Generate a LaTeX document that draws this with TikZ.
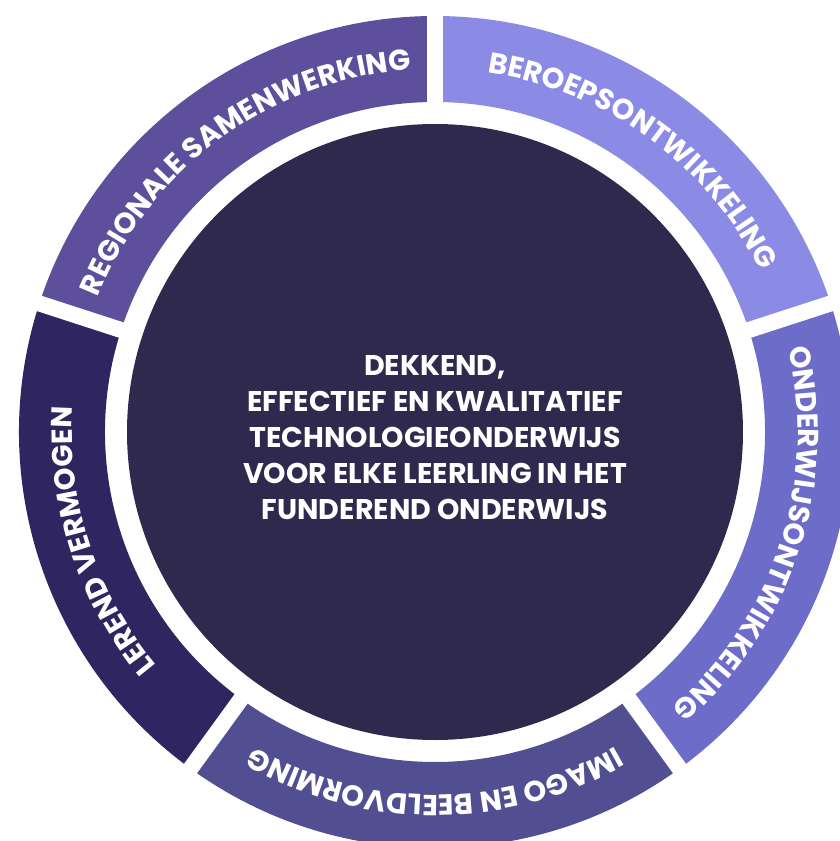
\documentclass[tikz,border=0pt]{standalone}
\usepackage{fontspec}
\setmainfont{Poppins}
\usetikzlibrary{decorations.text}
\definecolor{cCore}{HTML}{2E294D}
\definecolor{cReg}{HTML}{5D4F9C}
\definecolor{cBer}{HTML}{8B8AE4}
\definecolor{cOnd}{HTML}{6E6CC9}
\definecolor{cIma}{HTML}{514F91}
\definecolor{cLer}{HTML}{2F2560}
\newcommand\ringfont{\bfseries\fontsize{29}{29}\selectfont}
\newcommand\ringsector[3]{%
  \fill[#3] (#1:416) arc[start angle=#1, end angle=#2, radius=416]
    -- (#2:330) arc[start angle=#2, end angle=#1, radius=330] -- cycle;}
\newcommand\ringlabel[3]{%
  \path[decorate, decoration={text along path, text align=center, text color=white,
    text={|\ringfont|#3}}] (#2:363) arc[start angle=#2, end angle=#1, radius=363];}
\begin{document}
\begin{tikzpicture}[x=1pt,y=1pt,
  gapline/.style={white, line width=16},
  corecircle/.style={circle, fill=cCore, minimum size=616, inner sep=0},
  coretext/.style={text=white, align=center, font=\bfseries\fontsize{28.5}{36}\selectfont}]
\useasboundingbox (-435,-409) rectangle (404,432);
\ringsector{90}{162}{cReg}
\ringsector{18}{90}{cBer}
\ringsector{-54}{18}{cOnd}
\ringsector{-126}{-54}{cIma}
\ringsector{162}{234}{cLer}
\foreach \a in {90,18,-54,-126,162}
  \draw[gapline] (\a:320) -- (\a:430);
\node[corecircle] (core) at (0,0) {};
\node[coretext] (title) at (0,-6) {DEKKEND,\\EFFECTIEF EN KWALITATIEF\\TECHNOLOGIEONDERWIJS\\VOOR ELKE LEERLING IN HET\\FUNDEREND ONDERWIJS};
\ringlabel{90}{162}{REGIONALE SAMENWERKING}
\ringlabel{18}{90}{BEROEPSONTWIKKELING}
\ringlabel{-54}{18}{ONDERWIJSONTWIKKELING}
\ringlabel{-126}{-54}{IMAGO EN BEELDVORMING}
\ringlabel{162}{234}{LEREND VERMOGEN}
\end{tikzpicture}
\end{document}
